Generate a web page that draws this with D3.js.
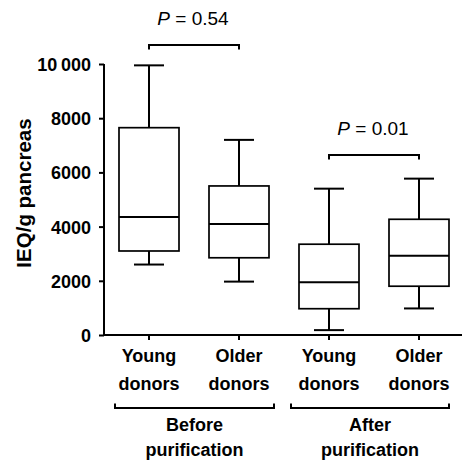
<!DOCTYPE html>
<html>
<head>
<meta charset="utf-8">
<script src="https://cdn.jsdelivr.net/npm/d3@7"></script>
<style>
  html, body { margin: 0; padding: 0; background: #fff; }
  svg { display: block; font-family: Arial, "Liberation Sans", Helvetica, sans-serif; }
</style>
</head>
<body>
<svg id="chart" width="462" height="462"></svg>
<script>
// ---- Data ----
const categories = ["Young donors", "Older donors", "Young donors ", "Older donors "];
const categoryLines = [["Young", "donors"], ["Older", "donors"], ["Young", "donors"], ["Older", "donors"]];
const whiskerMin = [2600, 1970, 180, 980];
const q1 = [3100, 2850, 970, 1800];
const median = [4350, 4100, 1950, 2920];
const q3 = [7650, 5500, 3350, 4270];
const whiskerMax = [9950, 7200, 5400, 5770];
const yTicks = [0, 2000, 4000, 6000, 8000, 10000];
const yTickLabels = ["0", "2000", "4000", "6000", "8000", "10\u2009000"];
const groups = [["Before", "purification"], ["After", "purification"]];
const groupMembers = [[0, 1], [2, 3]];
const comparisons = [[0, 1], [2, 3]];
const pValues = ["0.54", "0.01"];
const bracketHeights = [10700, 6640]; // value level where the significance bracket sits
const yTitle = "IEQ/g pancreas";

// ---- Layout ----
const svg = d3.select("#chart");
const y = d3.scaleLinear().domain([0, 10000]).range([335, 64]);
const x = d3.scaleBand().domain(categories).range([104, 464]).paddingInner(0).paddingOuter(0);
const cx = i => x(categories[i]) + x.bandwidth() / 2;
const boxW = 60, capW = 30;
const ink = "#000";

// Y axis
const yAxis = d3.axisLeft(y).tickValues(yTicks).tickSize(5).tickPadding(8)
  .tickFormat((d, i) => yTickLabels[i]);
const gy = svg.append("g").attr("transform", "translate(104,0)").call(yAxis);
gy.select(".domain").attr("d", `M0,${y(10000)}V${y(0)}`).attr("stroke", ink).attr("stroke-width", 2);
gy.selectAll(".tick line").attr("stroke", ink).attr("stroke-width", 2);
gy.selectAll(".tick text").attr("fill", ink).attr("font-size", 18).attr("font-weight", "bold")
  .attr("font-family", "Arial, 'Liberation Sans', sans-serif").attr("dy", "0.36em");

// X axis
const xAxis = d3.axisBottom(x).tickSize(5).tickFormat("");
const gx = svg.append("g").attr("transform", `translate(0,${y(0)})`).call(xAxis);
gx.select(".domain").attr("d", `M103,0H462`).attr("stroke", ink).attr("stroke-width", 2);
gx.selectAll(".tick line").attr("stroke", ink).attr("stroke-width", 2);

// Category labels
categoryLines.forEach((lines, i) => {
  const t = svg.append("text").attr("x", cx(i)).attr("text-anchor", "middle")
    .attr("font-size", 18).attr("font-weight", "bold").attr("fill", ink);
  lines.forEach((ln, k) => {
    t.append("tspan").attr("x", cx(i)).attr("y", 362 + k * 28).text(ln);
  });
});

// Group brackets and labels
const groupExtents = [[-34, 35], [-38, 30]];
groups.forEach((lines, g) => {
  const [a, b] = groupMembers[g];
  const x0 = cx(a) + groupExtents[g][0], x1 = cx(b) + groupExtents[g][1];
  svg.append("path").attr("d", `M${x0},403.5V408H${x1}V403.5`).attr("fill", "none")
    .attr("stroke", ink).attr("stroke-width", 2);
  const mid = (x0 + x1) / 2;
  const t = svg.append("text").attr("text-anchor", "middle")
    .attr("font-size", 18).attr("font-weight", "bold").attr("fill", ink);
  lines.forEach((ln, k) => {
    t.append("tspan").attr("x", mid).attr("y", 431 + k * 25).text(ln);
  });
});

// Boxes
const boxes = svg.append("g");
categories.forEach((c, i) => {
  const g = boxes.append("g");
  const c0 = cx(i);
  g.append("line").attr("x1", c0).attr("x2", c0).attr("y1", y(whiskerMax[i])).attr("y2", y(q3[i]))
    .attr("stroke", ink).attr("stroke-width", 2);
  g.append("line").attr("x1", c0).attr("x2", c0).attr("y1", y(q1[i])).attr("y2", y(whiskerMin[i]))
    .attr("stroke", ink).attr("stroke-width", 2);
  g.append("line").attr("x1", c0 - capW / 2).attr("x2", c0 + capW / 2)
    .attr("y1", y(whiskerMax[i])).attr("y2", y(whiskerMax[i])).attr("stroke", ink).attr("stroke-width", 2);
  g.append("line").attr("x1", c0 - capW / 2).attr("x2", c0 + capW / 2)
    .attr("y1", y(whiskerMin[i])).attr("y2", y(whiskerMin[i])).attr("stroke", ink).attr("stroke-width", 2);
  g.append("rect").attr("x", c0 - boxW / 2).attr("width", boxW)
    .attr("y", y(q3[i])).attr("height", y(q1[i]) - y(q3[i]))
    .attr("fill", "#fff").attr("stroke", ink).attr("stroke-width", 1.7);
  g.append("line").attr("x1", c0 - boxW / 2).attr("x2", c0 + boxW / 2)
    .attr("y1", y(median[i])).attr("y2", y(median[i])).attr("stroke", ink).attr("stroke-width", 2);
});

// Significance brackets
comparisons.forEach(([a, b], k) => {
  const yy = y(bracketHeights[k]);
  svg.append("path").attr("d", `M${cx(a)},${yy + 4.5}V${yy}H${cx(b)}V${yy + 4.5}`)
    .attr("fill", "none").attr("stroke", ink).attr("stroke-width", 2);
  const t = svg.append("text").attr("x", (cx(a) + cx(b)) / 2 - 1).attr("y", yy - 20)
    .attr("text-anchor", "middle").attr("font-size", 19).attr("fill", ink);
  t.append("tspan").attr("font-style", "italic").text("P");
  t.append("tspan").text(" = " + pValues[k]);
});

// Y title
svg.append("text").attr("transform", "translate(31,193) rotate(-90)")
  .attr("text-anchor", "middle").attr("font-size", 20.5).attr("font-weight", "bold")
  .attr("fill", ink).text(yTitle);
</script>
</body>
</html>
